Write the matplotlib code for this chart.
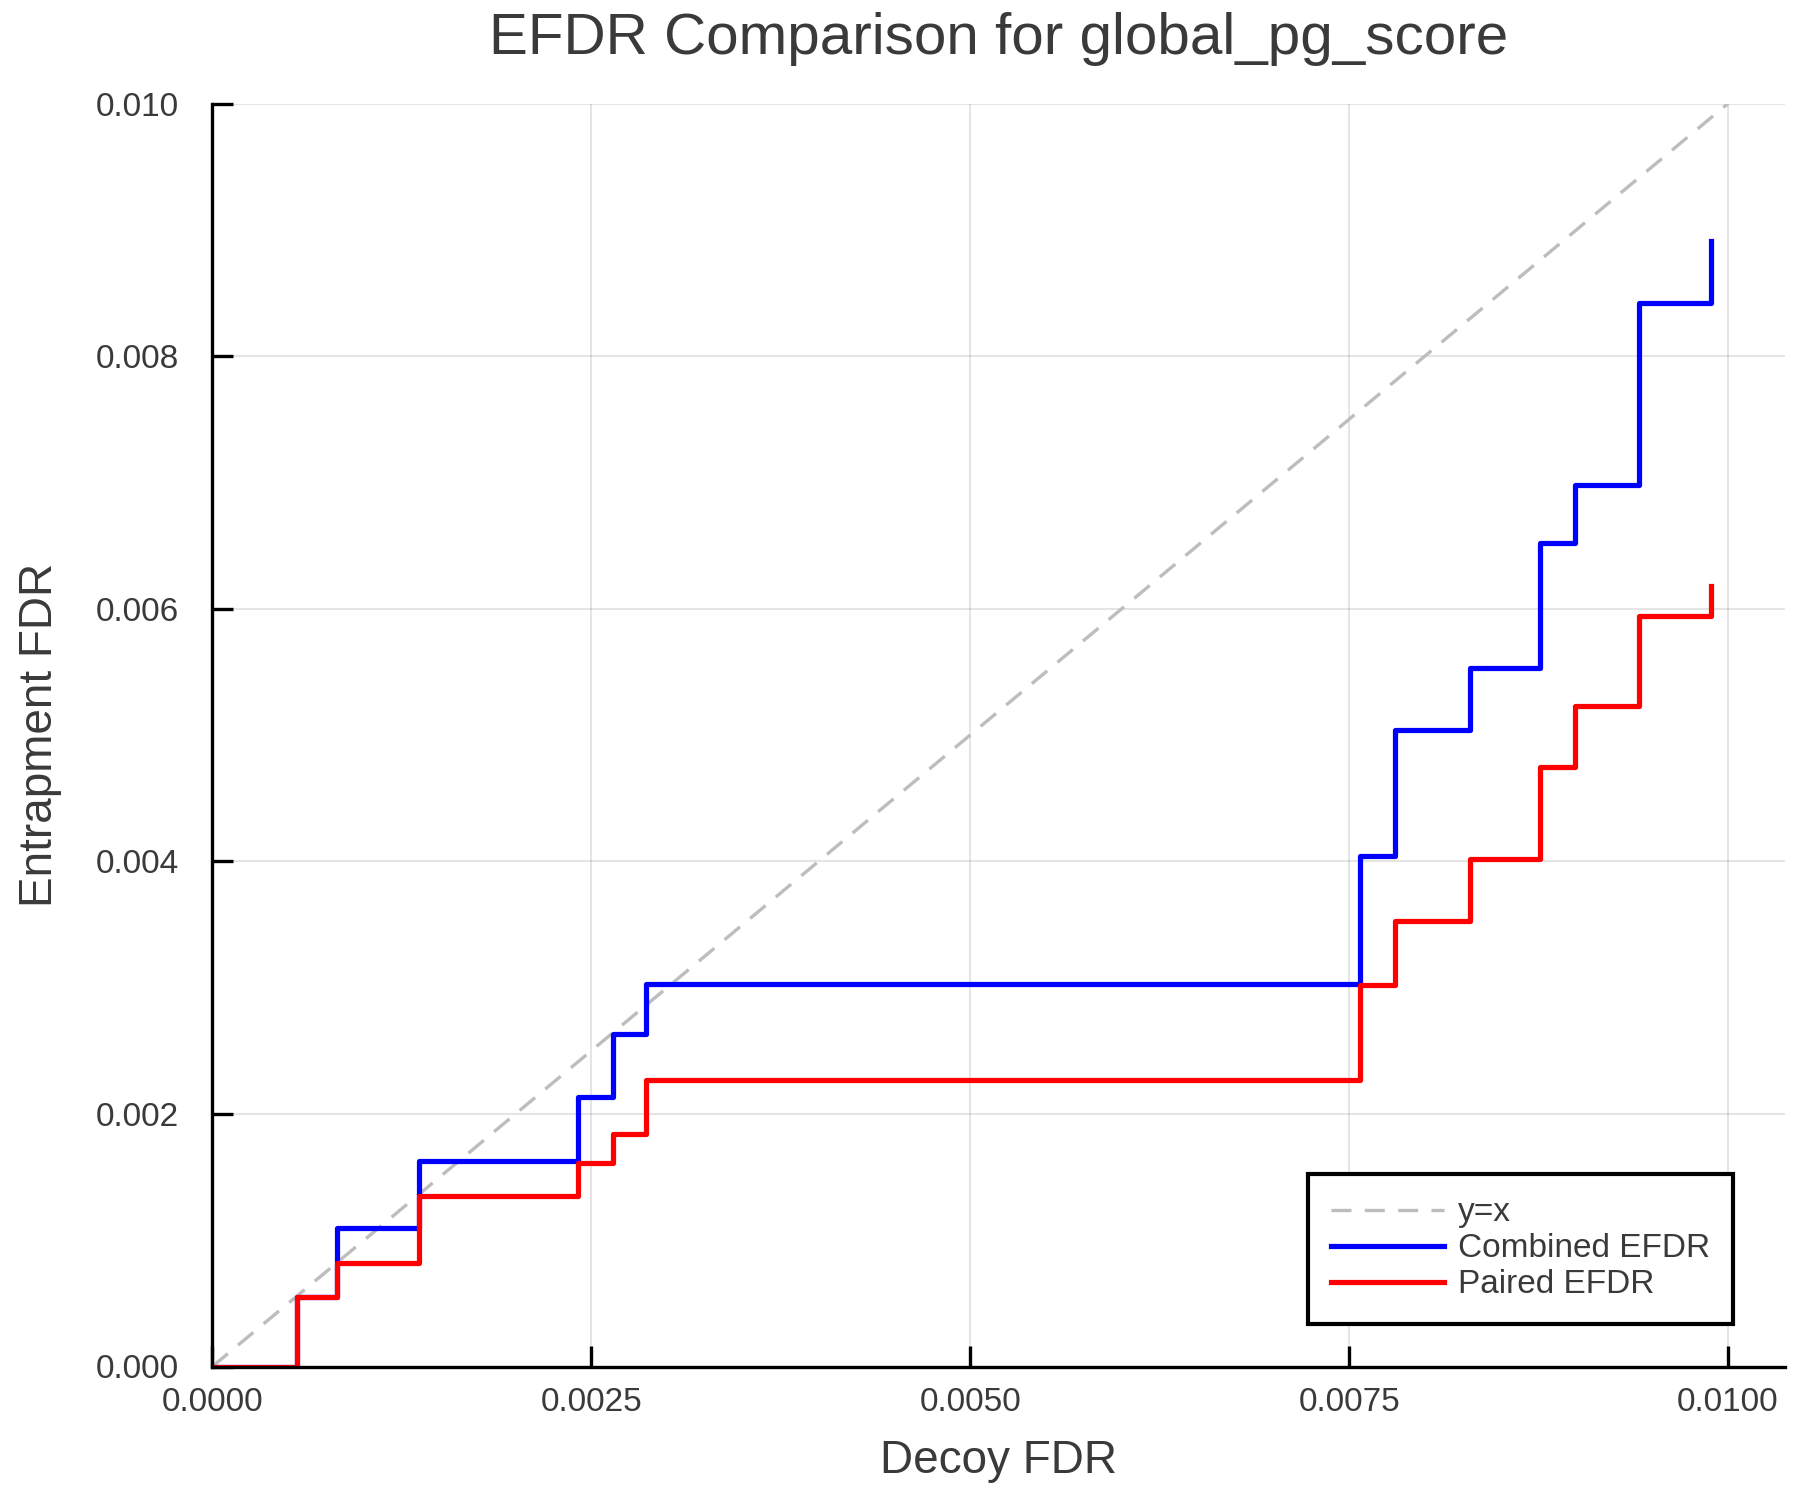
import matplotlib
matplotlib.use("Agg")
import matplotlib.pyplot as plt
import numpy as np

decoy_fdr = [0.0, 0.00056, 0.00082, 0.00136, 0.00241, 0.00264, 0.00286,
             0.00757, 0.00780, 0.00830, 0.00876, 0.00899, 0.00941, 0.00989]
combined_efdr = [0.0, 0.00055, 0.00110, 0.00163, 0.00213, 0.00263, 0.00303,
                 0.00404, 0.00504, 0.00553, 0.00652, 0.00698, 0.00842, 0.00891]
paired_efdr = [0.0, 0.00055, 0.00082, 0.00135, 0.00161, 0.00184, 0.00227,
               0.00302, 0.00353, 0.00402, 0.00475, 0.00523, 0.00594, 0.00618]
diag = [0.0, 0.010]
xticks = [0.0, 0.0025, 0.005, 0.0075, 0.010]
xtick_labels = ["0.0000", "0.0025", "0.0050", "0.0075", "0.0100"]
yticks = [0.0, 0.002, 0.004, 0.006, 0.008, 0.010]
ytick_labels = ["0.000", "0.002", "0.004", "0.006", "0.008", "0.010"]

plt.rcParams['font.family'] = ['Liberation Sans', 'DejaVu Sans']
txt = '#3a3a3a'

fig = plt.figure(figsize=(6, 5), dpi=300)
ax = fig.add_axes([0.118, 0.089, 0.8736, 0.842])

ax.plot(diag, diag, ls=(0, (6, 4)), color='#bdbdbd', lw=0.8, label='y=x')
ax.step(decoy_fdr, combined_efdr, where='post', color='blue', lw=1.25, label='Combined EFDR')
ax.step(decoy_fdr, paired_efdr, where='post', color='red', lw=1.25, label='Paired EFDR')

ax.set_xlim(0, 0.010375)
ax.set_ylim(0, 0.010)
ax.set_xticks(xticks)
ax.set_xticklabels(xtick_labels)
ax.set_yticks(yticks)
ax.set_yticklabels(ytick_labels)
ax.tick_params(direction='in', length=5, width=0.8, color='black',
               labelsize=8, labelcolor=txt)
ax.tick_params(axis='y', pad=8)
ax.tick_params(axis='x', pad=5)
ax.grid(True, color='black', alpha=0.1, lw=0.5)
for s in ['top', 'right']:
    ax.spines[s].set_visible(False)
for s in ['left', 'bottom']:
    ax.spines[s].set_linewidth(0.8)
    ax.spines[s].set_color('black')

ax.set_xlabel('Decoy FDR', fontsize=11, color=txt, labelpad=5)
ax.set_ylabel('Entrapment FDR', fontsize=11, color=txt, labelpad=8)
ax.set_title('EFDR Comparison for global_pg_score', fontsize=14, color=txt, pad=12)

leg = ax.legend(loc='lower right', bbox_to_anchor=(0.967, 0.034), fontsize=8,
                frameon=True, fancybox=False, edgecolor='black', framealpha=1,
                borderpad=0.7, labelspacing=0.15, handlelength=3.4,
                handletextpad=0.4, borderaxespad=0)
leg.get_frame().set_linewidth(1.0)
for t in leg.get_texts():
    t.set_color(txt)
leg.set_zorder(5)

fig.savefig('out.png', dpi=300)
